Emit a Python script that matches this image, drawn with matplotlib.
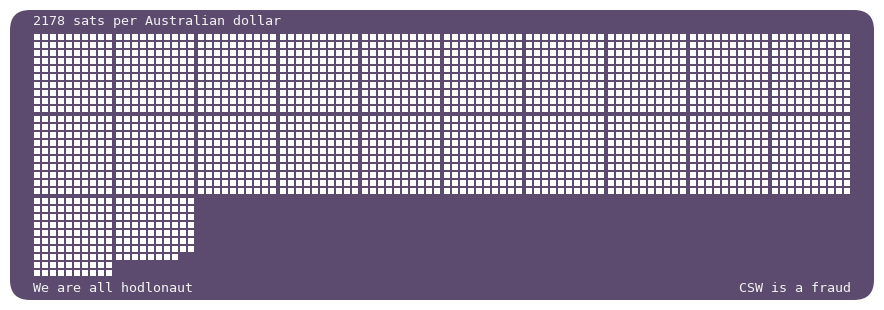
import matplotlib
matplotlib.use("Agg")
import matplotlib.pyplot as plt
from matplotlib.patches import Rectangle, FancyBboxPatch

# data
sats_per_aud = 2178
title_text = "2178 sats per Australian dollar"
footer_left = "We are all hodlonaut"
footer_right = "CSW is a fraud"
block_size = 100
blocks_per_row = 10
squares_per_block_row = 10

bg_color = "#5c4b6e"
fg_color = "#ffffff"

W, H = 884, 310
fig = plt.figure(figsize=(W / 100, H / 100), dpi=100)
ax = fig.add_axes([0, 0, 1, 1])
ax.set_xlim(0, W)
ax.set_ylim(H, 0)
ax.axis("off")

bg = FancyBboxPatch((10 + 20, 10 + 20), W - 20 - 40, H - 20 - 40,
                    boxstyle="round,pad=20", fc=bg_color, ec="none")
ax.add_patch(bg)

x0, y0 = 34, 34
pitch = 8
sq = 6
block_pitch = 82

for i in range(sats_per_aud):
    b = i // block_size
    r = i % block_size
    bx = b % blocks_per_row
    by = b // blocks_per_row
    cx = r % squares_per_block_row
    cy = r // squares_per_block_row
    x = x0 + bx * block_pitch + cx * pitch
    y = y0 + by * block_pitch + cy * pitch
    ax.add_patch(Rectangle((x, y), sq, sq, fc=fg_color, ec="none"))

font = dict(family="DejaVu Sans Mono", fontsize=9.6, color="#f2f2f2")
ax.text(33, 21, title_text, ha="left", va="center", **font)
ax.text(33, 288, footer_left, ha="left", va="center", **font)
ax.text(851, 288, footer_right, ha="right", va="center", **font)

fig.savefig("out.png", dpi=100, facecolor="white")
